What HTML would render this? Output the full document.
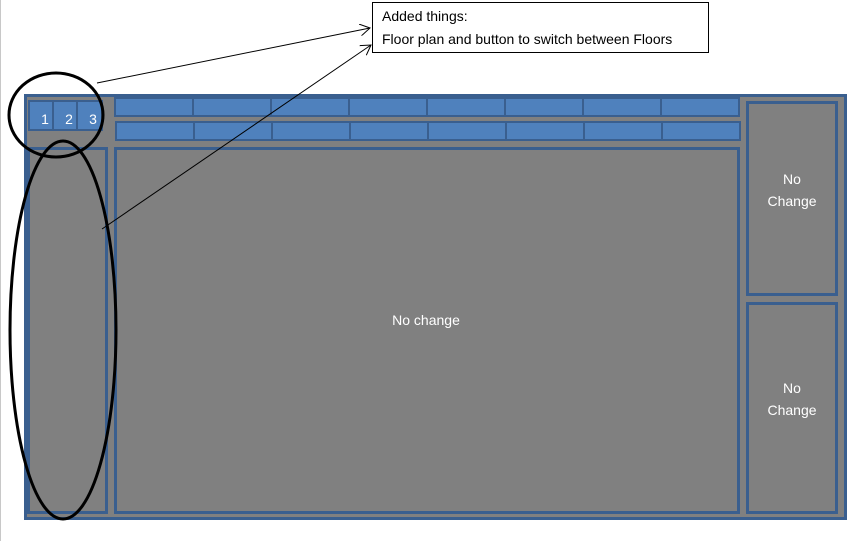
<!DOCTYPE html>
<html><head><meta charset="utf-8"><style>
html,body{margin:0;padding:0;background:#fff;}
svg{display:block;}
text{font-family:"Liberation Sans",sans-serif;}
</style></head><body>
<svg width="854" height="541" viewBox="0 0 854 541" xmlns="http://www.w3.org/2000/svg">
<defs><marker id="a" markerWidth="12" markerHeight="12" refX="10" refY="6" orient="auto" markerUnits="userSpaceOnUse"><path d="M0,0 L10,6 L0,12" fill="none" stroke="#000" stroke-width="1"/></marker></defs>
<line x1="0.5" y1="0" x2="0.5" y2="541" stroke="#c8c8c8"/>
<rect x="25.5" y="95.5" width="820" height="423" fill="#808080" stroke="#3a5f8f" stroke-width="3"/>
<g fill="#4f81bd" stroke="#3a5f8f" stroke-width="2">
<rect x="29" y="101" width="24" height="29"/><rect x="53" y="101" width="24" height="29"/><rect x="77" y="101" width="25" height="29"/>
<rect x="115" y="98" width="78" height="18"/><rect x="193" y="98" width="78" height="18"/><rect x="271" y="98" width="78" height="18"/><rect x="349" y="98" width="78" height="18"/><rect x="427" y="98" width="78" height="18"/><rect x="505" y="98" width="78" height="18"/><rect x="583" y="98" width="78" height="18"/><rect x="661" y="98" width="78" height="18"/>
<rect x="116" y="122" width="78" height="18"/><rect x="194" y="122" width="78" height="18"/><rect x="272" y="122" width="78" height="18"/><rect x="350" y="122" width="78" height="18"/><rect x="428" y="122" width="78" height="18"/><rect x="506" y="122" width="78" height="18"/><rect x="584" y="122" width="78" height="18"/><rect x="662" y="122" width="78" height="18"/>
</g>
<g fill="none" stroke="#3a5f8f" stroke-width="3">
<rect x="28.5" y="148.5" width="78" height="364"/>
<rect x="115.5" y="148.5" width="623" height="364"/>
<rect x="747.5" y="102.5" width="89" height="192"/>
<rect x="747.5" y="303.5" width="89" height="209"/>
</g>
<g fill="#fff" font-size="14" text-anchor="middle">
<text x="45" y="124">1</text><text x="69" y="124">2</text><text x="93" y="124">3</text>
<text x="426" y="325">No change</text>
<text x="792" y="184">No</text><text x="792" y="206">Change</text>
<text x="792" y="393">No</text><text x="792" y="415">Change</text>
</g>
<ellipse cx="56" cy="115" rx="47" ry="42" fill="none" stroke="#000" stroke-width="3"/>
<ellipse cx="63" cy="330" rx="53" ry="189" fill="none" stroke="#000" stroke-width="3"/>
<line x1="97" y1="83" x2="370" y2="28" stroke="#000" marker-end="url(#a)"/>
<line x1="102" y1="229" x2="371" y2="45" stroke="#000" marker-end="url(#a)"/>
<rect x="372.5" y="2.5" width="336" height="50" fill="#fff" stroke="#000"/>
<g font-size="14" fill="#000"><text x="382" y="21">Added things:</text><text x="382" y="44">Floor plan and button  to switch between Floors</text></g>
</svg>
</body></html>
